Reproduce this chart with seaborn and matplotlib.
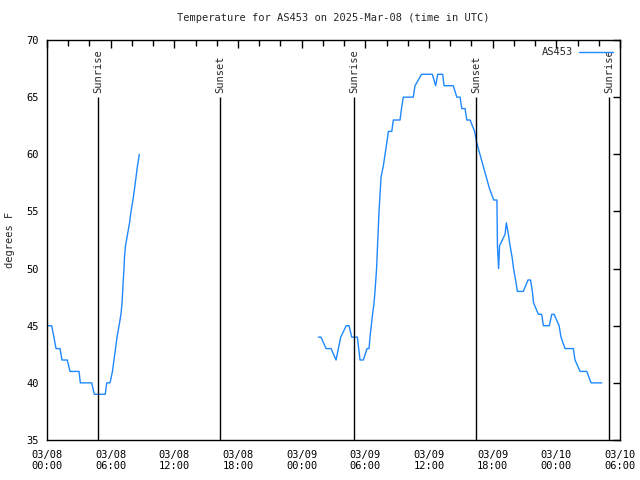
import numpy as np
import pandas as pd
import matplotlib
matplotlib.use("Agg")
import matplotlib.pyplot as plt
import matplotlib.dates as mdates
import seaborn as sns

# hours since 2025-03-08 00:00 UTC and temperature (F)
seg1_hours = [0.0, 0.44, 0.65, 0.85, 1.23, 1.41, 1.91, 2.17, 3.02, 3.14, 4.21, 4.46,
              5.49, 5.63, 5.94, 6.17, 6.31, 6.46, 6.6, 6.79, 6.97, 7.07, 7.13, 7.19,
              7.26, 7.3, 7.4, 7.59, 7.78, 7.92, 8.1, 8.25, 8.39, 8.53, 8.7]
seg1_temps = [45, 45, 44, 43, 43, 42, 42, 41, 41, 40, 40, 39,
              39, 40, 40, 41, 42, 43, 44, 45, 46, 47, 48, 49,
              50, 51, 52, 53, 54, 55, 56, 57, 58, 59, 60]

seg2_hours = [25.57, 25.82, 26.3, 26.77, 27.24, 27.46, 27.68, 28.2, 28.46, 28.72,
              29.25, 29.5, 29.81, 30.16, 30.35, 30.44, 30.56, 30.68, 30.82, 30.91,
              31.06, 31.15, 31.29, 31.48, 31.7, 31.86, 32.02, 32.17, 32.49, 32.64,
              33.27, 33.41, 33.58, 34.52, 34.68, 35.3, 36.31, 36.63, 36.82, 37.29,
              37.42, 38.29, 38.62, 38.93, 39.09, 39.4, 39.56, 39.87, 40.3, 40.5,
              40.8, 41.1, 41.4, 41.7, 42.1, 42.4, 42.45, 42.56, 42.65, 43.17,
              43.29, 43.48, 43.64, 43.83, 43.97, 44.16, 44.33, 44.89, 45.33, 45.57,
              45.74, 45.85, 46.31, 46.62, 46.78, 47.34, 47.57, 47.79, 48.26, 48.44,
              48.82, 49.6, 49.76, 50.24, 50.87, 51.27, 52.28]
seg2_temps = [44, 44, 43, 43, 42, 43, 44, 45, 45, 44,
              44, 42, 42, 43, 43, 44, 45, 46, 47, 48,
              50, 52, 55, 58, 59, 60, 61, 62, 62, 63,
              63, 64, 65, 65, 66, 67, 67, 66, 67, 67,
              66, 66, 65, 65, 64, 64, 63, 63, 62, 61,
              60, 59, 58, 57, 56, 56, 52, 50, 52, 53,
              54, 53, 52, 51, 50, 49, 48, 48, 49, 49,
              48, 47, 46, 46, 45, 45, 46, 46, 45, 44,
              43, 43, 42, 41, 41, 40, 40]

sun_labels = ["Sunrise", "Sunset", "Sunrise", "Sunset", "Sunrise"]
sun_times = ["2025-03-08 04:49", "2025-03-08 16:18", "2025-03-09 04:56",
             "2025-03-09 16:25", "2025-03-10 04:58"]

start = pd.Timestamp("2025-03-08 00:00")
df1 = pd.DataFrame({"time": start + pd.to_timedelta(seg1_hours, unit="h"), "temp": seg1_temps})
df2 = pd.DataFrame({"time": start + pd.to_timedelta(seg2_hours, unit="h"), "temp": seg2_temps})

sns.set_style("white")
plt.rcParams["font.family"] = ["DejaVu Sans Mono", "DejaVu Sans"]
plt.rcParams["font.size"] = 7

fig = plt.figure(figsize=(6.4, 4.8), dpi=100)
ax = fig.add_axes([47 / 640, 40 / 480, 573 / 640, 400 / 480])

line_color = "#1e88ff"
sns.lineplot(data=df1, x="time", y="temp", ax=ax, color=line_color, lw=1, label="AS453")
sns.lineplot(data=df2, x="time", y="temp", ax=ax, color=line_color, lw=1)

for lab, t in zip(sun_labels, sun_times):
    ts = pd.Timestamp(t)
    ax.vlines(ts, 35, 65, color="black", lw=1)
    ax.text(ts, 65.4, lab, rotation=90, ha="center", va="bottom", fontsize=7.5)

ax.set_xlim(start, pd.Timestamp("2025-03-10 06:00"))
ax.set_ylim(35, 70)
ax.set_yticks(np.arange(35, 71, 5))
ax.xaxis.set_major_locator(mdates.HourLocator(byhour=[0, 6, 12, 18]))
ax.xaxis.set_minor_locator(mdates.HourLocator(byhour=range(0, 24, 2)))
ax.xaxis.set_major_formatter(mdates.DateFormatter("%m/%d\n%H:%M"))

ax.tick_params(which="both", direction="in", top=True, right=True, colors="black",
               labelsize=7.5)
ax.tick_params(axis="x", which="major", length=6, width=1, pad=7)
ax.tick_params(axis="x", which="minor", length=4, width=1)
ax.tick_params(axis="y", which="major", length=5, width=1, pad=6)
for s in ax.spines.values():
    s.set_color("black")
    s.set_linewidth(1)

ax.set_xlabel("")
ax.set_ylabel("degrees F", fontsize=7.5, labelpad=8)
ax.set_title("Temperature for AS453 on 2025-Mar-08 (time in UTC)", fontsize=7.5, pad=14)

ax.legend(loc="upper right", frameon=False, markerfirst=False, handlelength=3.2,
          fontsize=7.5, borderaxespad=0.3, handletextpad=0.6)

fig.savefig("out.png", dpi=100)
